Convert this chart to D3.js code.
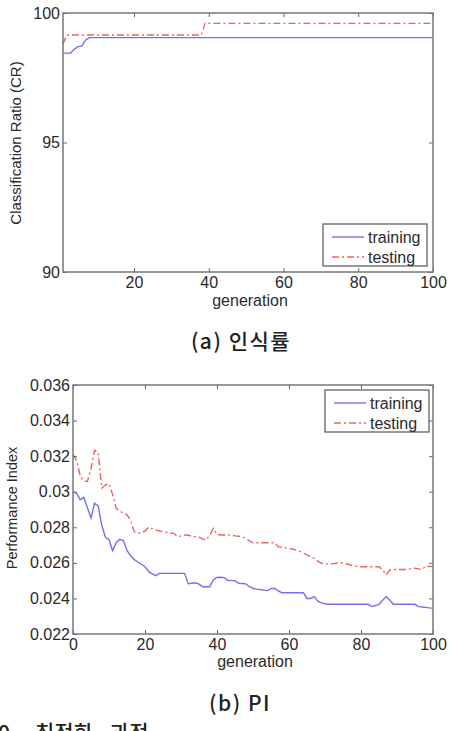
<!DOCTYPE html>
<html>
<head>
<meta charset="utf-8">
<script src="https://cdn.jsdelivr.net/npm/d3@7"></script>
<style>
  body { margin: 0; background: #fff; }
  svg { display: block; }
  text { font-family: "Liberation Sans", Arial, sans-serif; fill: #2a2a2a; }
</style>
</head>
<body>
<div id="chart"></div>
<script>
// ---- data ----
// (a) classification ratio, generations 1..100
const crGenerations = d3.range(1, 101);
const crTraining = [
  98.45, 98.45, 98.45, 98.6, 98.7, 98.72, 98.95,
  ...Array(93).fill(99.05)
];
const crTesting = [
  98.8,
  ...Array(37).fill(99.15),
  ...Array(62).fill(99.6)
];
const crYTicks = [90, 95, 100];
const crXTicks = [20, 40, 60, 80, 100];

// (b) performance index, generations 0..100
const piGenerations = d3.range(0, 101);
const piTraining = [
  0.03000, 0.02990, 0.02955, 0.02968, 0.02910, 0.02852, 0.02935, 0.02920, 0.02810, 0.02745,
  0.02730, 0.02668, 0.02715, 0.02732, 0.02725, 0.02670, 0.02640, 0.02618, 0.02605, 0.02592,
  0.02578, 0.02552, 0.02538, 0.02528, 0.02541, 0.02541, 0.02541, 0.02541, 0.02541, 0.02541,
  0.02541, 0.02541, 0.02482, 0.02485, 0.02488, 0.02480, 0.02466, 0.02466, 0.02466, 0.02505,
  0.02518, 0.02519, 0.02517, 0.02502, 0.02500, 0.02500, 0.02485, 0.02484, 0.02482, 0.02466,
  0.02457, 0.02452, 0.02450, 0.02447, 0.02444, 0.02455, 0.02457, 0.02443, 0.02432, 0.02432,
  0.02432, 0.02432, 0.02432, 0.02432, 0.02432, 0.02400, 0.02400, 0.02410, 0.02385, 0.02375,
  0.02370, 0.02367, 0.02367, 0.02367, 0.02367, 0.02367, 0.02367, 0.02367, 0.02367, 0.02367,
  0.02367, 0.02367, 0.02367, 0.02354, 0.02360, 0.02367, 0.02390, 0.02410, 0.02390, 0.02367,
  0.02367, 0.02367, 0.02367, 0.02367, 0.02367, 0.02367, 0.02354, 0.02352, 0.02350, 0.02347,
  0.02345
];
const piTesting = [
  0.03210, 0.03175, 0.03090, 0.03060, 0.03058, 0.03130, 0.03234, 0.03220, 0.03020, 0.03038,
  0.03045, 0.02985, 0.02907, 0.02890, 0.02880, 0.02870, 0.02840, 0.02775, 0.02768, 0.02766,
  0.02780, 0.02800, 0.02792, 0.02785, 0.02780, 0.02775, 0.02772, 0.02768, 0.02766, 0.02748,
  0.02752, 0.02757, 0.02755, 0.02750, 0.02747, 0.02745, 0.02735, 0.02728, 0.02757, 0.02794,
  0.02760, 0.02757, 0.02757, 0.02757, 0.02755, 0.02752, 0.02750, 0.02745, 0.02738, 0.02725,
  0.02713, 0.02713, 0.02713, 0.02713, 0.02713, 0.02713, 0.02713, 0.02691, 0.02688, 0.02684,
  0.02682, 0.02678, 0.02672, 0.02665, 0.02654, 0.02645, 0.02635, 0.02626, 0.02610, 0.02597,
  0.02595, 0.02594, 0.02594, 0.02598, 0.02600, 0.02601, 0.02595, 0.02588, 0.02584, 0.02580,
  0.02578, 0.02578, 0.02578, 0.02578, 0.02578, 0.02578, 0.02560, 0.02532, 0.02560, 0.02563,
  0.02563, 0.02563, 0.02563, 0.02563, 0.02568, 0.02570, 0.02566, 0.02563, 0.02582, 0.02580,
  0.02580
];
const piYTicks = [0.022, 0.024, 0.026, 0.028, 0.03, 0.032, 0.034, 0.036];
const piXTicks = [0, 20, 40, 60, 80, 100];

const seriesNames = ["training", "testing"];
const blue = "#7272ee", red = "#ee6262";

const svg = d3.select("#chart").append("svg")
  .attr("width", 449)
  .attr("height", 731);

// draws one MATLAB-style panel
function panel(cfg) {
  const x = d3.scaleLinear().domain(cfg.xDomain).range([cfg.left, cfg.right]);
  const y = d3.scaleLinear().domain(cfg.yDomain).range([cfg.bottom, cfg.top]);
  const g = svg.append("g");

  //lines
  const line = d3.line()
    .x(d => x(d[0]))
    .y(d => y(d[1]));
  g.append("path")
    .datum(d3.zip(cfg.gens, cfg.train))
    .attr("d", line)
    .attr("fill", "none")
    .attr("stroke", blue)
    .attr("stroke-width", 1.4);
  g.append("path")
    .datum(d3.zip(cfg.gens, cfg.test))
    .attr("d", line)
    .attr("fill", "none")
    .attr("stroke", red)
    .attr("stroke-width", 1.4)
    .attr("stroke-dasharray", "7,3,2,3");

  //axes, ticks pointing inward
  const fmtY = cfg.fmtY || (d => d);
  g.append("g")
    .attr("transform", "translate(0," + cfg.bottom + ")")
    .call(d3.axisBottom(x).tickValues(cfg.xTicks).tickSizeInner(-4).tickSizeOuter(0).tickPadding(5))
    .call(a => a.select(".domain").remove());
  g.append("g")
    .attr("transform", "translate(0," + cfg.top + ")")
    .call(d3.axisTop(x).tickValues(cfg.xTicks).tickSizeInner(-4).tickSizeOuter(0).tickFormat(""))
    .call(a => a.select(".domain").remove());
  g.append("g")
    .attr("transform", "translate(" + cfg.left + ",0)")
    .call(d3.axisLeft(y).tickValues(cfg.yTicks).tickSizeInner(-4).tickSizeOuter(0).tickPadding(3).tickFormat(fmtY))
    .call(a => a.select(".domain").remove());
  g.append("g")
    .attr("transform", "translate(" + cfg.right + ",0)")
    .call(d3.axisRight(y).tickValues(cfg.yTicks).tickSizeInner(-4).tickSizeOuter(0).tickFormat(""))
    .call(a => a.select(".domain").remove());
  g.selectAll(".tick line").attr("stroke", "#666");
  g.selectAll(".tick text")
    .style("font-size", "16px")
    .style("font-family", "Liberation Sans, Arial, sans-serif")
    .attr("fill", "#2a2a2a");

  //box
  g.append("rect")
    .attr("x", cfg.left).attr("y", cfg.top)
    .attr("width", cfg.right - cfg.left).attr("height", cfg.bottom - cfg.top)
    .attr("fill", "none")
    .attr("stroke", "#777")
    .attr("stroke-width", 1.5);

  //axis titles
  g.append("text")
    .attr("x", (cfg.left + cfg.right) / 2 + 2)
    .attr("y", cfg.xLabelY)
    .attr("text-anchor", "middle")
    .style("font-size", "16px")
    .text("generation");
  g.append("text")
    .attr("transform", "translate(" + cfg.yLabelX + "," + cfg.yLabelMid + ") rotate(-90)")
    .attr("text-anchor", "middle")
    .style("font-size", cfg.yLabelSize)
    .text(cfg.yLabel);

  //legend
  const lg = g.append("g").attr("transform", "translate(" + cfg.legend[0] + "," + cfg.legend[1] + ")");
  lg.append("rect")
    .attr("width", 104).attr("height", 42)
    .attr("fill", "#fff")
    .attr("stroke", "#555")
    .attr("stroke-width", 1.2);
  seriesNames.forEach((name, i) => {
    lg.append("line")
      .attr("x1", 9).attr("x2", 41)
      .attr("y1", 13 + i * 20).attr("y2", 13 + i * 20)
      .attr("stroke", i === 0 ? blue : red)
      .attr("stroke-width", 1.4)
      .attr("stroke-dasharray", i === 0 ? null : "7,3,2,3");
    lg.append("text")
      .attr("x", 45)
      .attr("y", 13 + i * 20)
      .attr("dy", "0.35em")
      .style("font-size", "16px")
      .text(name);
  });
}

panel({
  left: 63, right: 433, top: 13, bottom: 272,
  xDomain: [1, 100], yDomain: [90, 100],
  xTicks: crXTicks, yTicks: crYTicks,
  gens: crGenerations, train: crTraining, test: crTesting,
  xLabelY: 306, yLabel: "Classification Ratio (CR)", yLabelX: 21, yLabelMid: 143, yLabelSize: "15px",
  legend: [323, 224]
});

panel({
  left: 73, right: 433, top: 385, bottom: 634,
  xDomain: [0, 100], yDomain: [0.022, 0.036],
  xTicks: piXTicks, yTicks: piYTicks,
  fmtY: d => d3.format(".3~f")(d),
  gens: piGenerations, train: piTraining, test: piTesting,
  xLabelY: 667, yLabel: "Performance Index", yLabelX: 17, yLabelMid: 508, yLabelSize: "14.5px",
  legend: [325, 390]
});

//captions
function caption(str, x, y, size, anchor, spacing) {
  svg.append("text")
    .attr("x", x).attr("y", y)
    .attr("text-anchor", anchor)
    .style("font-size", size)
    .style("font-weight", 500)
    .style("letter-spacing", spacing)
    .style("fill", "#222")
    .style("font-family", "'Noto Sans CJK KR', sans-serif")
    .text(str);
}
caption("(a)  인식률", 241, 349, "21px", "middle", "1.5px");
caption("(b)  PI", 240, 711, "21px", "middle", "1.5px");
caption("0.", -2, 740, "21px", "start", "0px");
caption("최적화", 35, 740, "21px", "start", "0px");
caption("과정", 110, 740, "21px", "start", "0px");
</script>
</body>
</html>
